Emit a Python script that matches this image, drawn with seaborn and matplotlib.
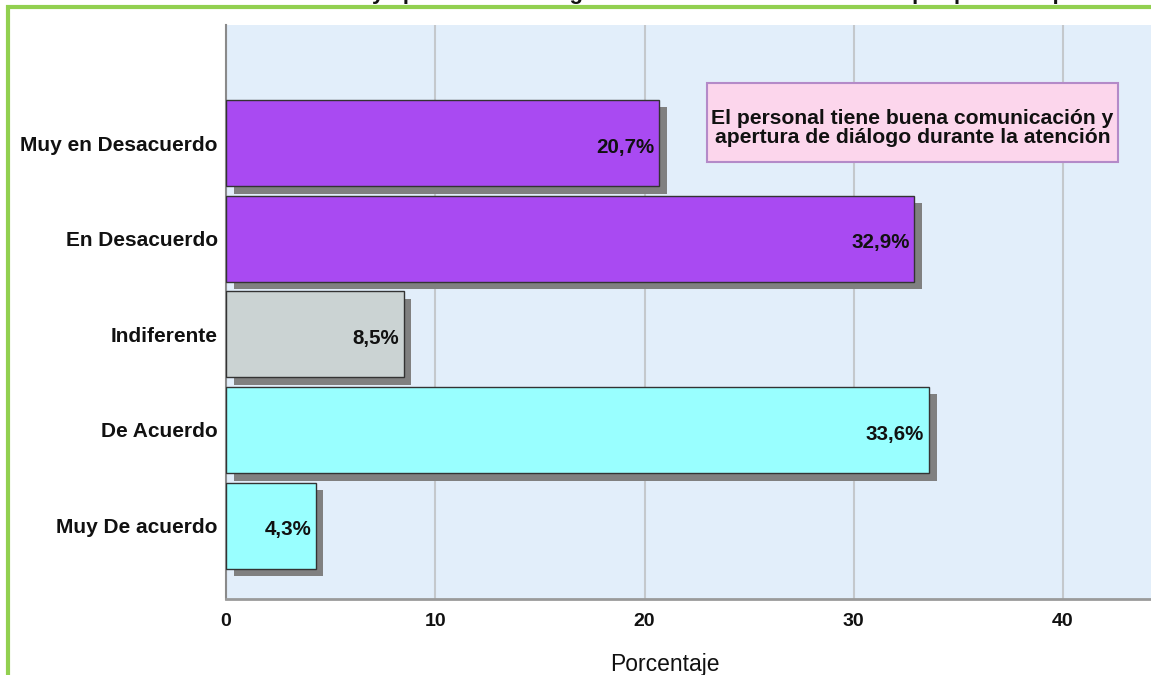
import matplotlib
matplotlib.use("Agg")
import matplotlib.pyplot as plt
import matplotlib.transforms as mtransforms
from matplotlib.lines import Line2D
from matplotlib.patches import Rectangle
import seaborn as sns
import pandas as pd

# ---- data ----
categories = ["Muy en Desacuerdo", "En Desacuerdo", "Indiferente", "De Acuerdo", "Muy De acuerdo"]
values = [20.7, 32.9, 8.5, 33.6, 4.3]
bar_colors = ["#a94af2", "#a94af2", "#cbd3d3", "#99ffff", "#99ffff"]
value_labels = ["20,7%", "32,9%", "8,5%", "33,6%", "4,3%"]
x_ticks = [0, 10, 20, 30, 40]
x_label = "Porcentaje"
box_text = "El personal tiene buena comunicación y\napertura de diálogo durante la atención"
title_text = "Comunicación y apertura de diálogo durante la atención brindada por parte del personal"

df = pd.DataFrame({"cat": categories, "val": values})

sns.set_theme(style="white")
plt.rcParams["font.family"] = ["Liberation Sans", "DejaVu Sans"]

W, H = 1151, 675
fig = plt.figure(figsize=(W / 100, H / 100), dpi=100)
fig.patch.set_facecolor("white")

ax_left, ax_right, ax_top, ax_bottom = 226, 1151, 25, 599
ax = fig.add_axes([ax_left / W, 1 - ax_bottom / H, (ax_right - ax_left) / W, (ax_bottom - ax_top) / H])
ax.set_facecolor("#e2eefa")

px_per_unit = 20.925
# shadow bars
sns.barplot(data=df, x="val", y="cat", color="#808080", saturation=1, width=0.9,
            linewidth=0, ax=ax, orient="h")
n_shadow = len(ax.patches)
offset = mtransforms.ScaledTranslation(7.5 / 100, -7.5 / 100, fig.dpi_scale_trans)
for p in ax.patches[:n_shadow]:
    p.set_transform(ax.transData + offset)
    p.set_zorder(2)

# main bars
sns.barplot(data=df, x="val", y="cat", hue="cat", palette=bar_colors, saturation=1,
            width=0.9, edgecolor="#333333", linewidth=1.0, legend=False, ax=ax, orient="h")
for p in ax.patches[n_shadow:]:
    p.set_zorder(3)

ax.set_xlim(0, (ax_right - ax_left) / px_per_unit)
ax.set_ylim(4.767, -1.234)
ax.set_xticks(x_ticks)
ax.set_xticklabels([str(t) for t in x_ticks])
ax.set_xlabel("")
ax.set_ylabel("")

ax.grid(axis="x", color="#c4c8cc", linewidth=1.5, zorder=0)
ax.grid(axis="y", visible=False)
ax.set_axisbelow(True)

for s in ["top", "right"]:
    ax.spines[s].set_visible(False)
ax.spines["left"].set_color("#8a8a8a")
ax.spines["left"].set_linewidth(1.5)
ax.spines["bottom"].set_color("#9a9a9a")
ax.spines["bottom"].set_linewidth(2)

ax.tick_params(axis="both", length=0)
ax.tick_params(axis="x", pad=10)
ax.tick_params(axis="y", pad=6)
for lab in ax.get_yticklabels():
    lab.set_fontsize(15)
    lab.set_fontweight("bold")
    lab.set_color("#111111")
for lab in ax.get_xticklabels():
    lab.set_family(["Liberation Sans Narrow", "Liberation Sans", "DejaVu Sans"])
    lab.set_fontsize(14)
    lab.set_fontweight("bold")
    lab.set_color("#111111")

# value labels
for i, (v, t) in enumerate(zip(values, value_labels)):
    ax.annotate(t, xy=(v, i), xytext=(-3.5, -3), textcoords="offset points",
                ha="right", va="center", fontsize=14.8, fontweight="bold",
                color="#111111", zorder=5)

# x label
fig.text(665 / W, 1 - 671 / H, x_label, ha="center", va="baseline", fontsize=16.5,
         family=["Liberation Sans Narrow", "Liberation Sans", "DejaVu Sans"], color="#111111")

# annotation box
bx0, by0, bx1, by1 = 707, 83, 1118, 162
fig.add_artist(Rectangle((bx0 / W, 1 - by1 / H), (bx1 - bx0) / W, (by1 - by0) / H,
                         transform=fig.transFigure, facecolor="#fcd6ec",
                         edgecolor="#b48ac8", linewidth=1.5, zorder=6))
fig.text((bx0 + bx1) / 2 / W, 1 - 128 / H, box_text, ha="center", va="center",
         fontsize=15.2, fontweight="bold", color="#111111", linespacing=0.95, zorder=7)

# title cut off at the top of the image
fig.text(213 / W, 1 + 1 / H, title_text, ha="left", va="baseline", fontsize=16,
         fontweight="bold", color="#111111")

# green frame
green = "#92d050"
fig.add_artist(Line2D([6 / W, 1.0], [1 - 6.7 / H, 1 - 6.7 / H], transform=fig.transFigure,
                      color=green, linewidth=3, solid_capstyle="butt", zorder=10))
fig.add_artist(Line2D([8 / W, 8 / W], [0, 1 - 5 / H], transform=fig.transFigure,
                      color=green, linewidth=3, solid_capstyle="butt", zorder=10))

fig.savefig("out.png", dpi=100)
